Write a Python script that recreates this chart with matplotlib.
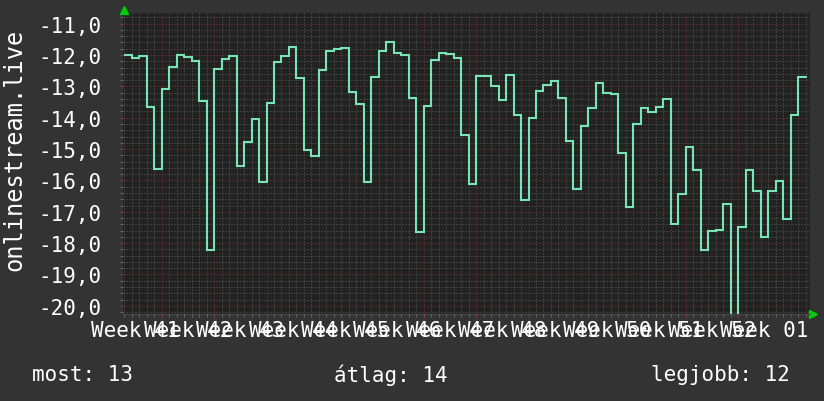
import numpy as np
import matplotlib
matplotlib.use('Agg')
import matplotlib.pyplot as plt
import matplotlib.ticker as mticker

# daily values (day index from Monday of week 41)
days = np.arange(2, 93)
values = [
    -12.00, -12.09, -12.02, -13.65, -15.64, -13.09, -12.37, -11.99, -12.05, -12.18,
    -13.46, -18.21, -12.45, -12.13, -12.02, -15.53, -14.76, -14.04, -16.04, -13.53,
    -12.21, -12.02, -11.73, -12.72, -15.02, -15.21, -12.48, -11.87, -11.80, -11.78,
    -13.19, -13.56, -16.04, -12.69, -11.87, -11.57, -11.93, -11.99, -13.37, -17.64,
    -13.63, -12.15, -11.93, -11.96, -12.10, -14.54, -16.11, -12.67, -12.67, -12.98,
    -13.43, -12.64, -13.91, -16.62, -14.00, -13.14, -12.96, -12.83, -13.36, -14.73,
    -16.28, -14.26, -13.68, -12.88, -13.21, -13.24, -15.13, -16.85, -14.19, -13.69,
    -13.82, -13.66, -13.39, -17.38, -16.43, -14.93, -15.67, -18.21, -17.61, -17.57,
    -16.74, -21.00, -17.49, -15.67, -16.34, -17.81, -16.34, -16.02, -17.22, -13.91,
    -12.70,
]
last_edge = 93.2
week_labels = ["Week 41", "Week 42", "Week 43", "Week 44", "Week 45", "Week 46",
               "Week 47", "Week 48", "Week 49", "Week 50", "Week 51", "Week 52",
               "Week 01"]
y_ticks = [-11, -12, -13, -14, -15, -16, -17, -18, -19, -20]
legend = ["most: 13", "átlag: 14", "legjobb: 12"]
ylabel = "onlinestream.live"

W, H = 824, 402
fig = plt.figure(figsize=(W / 100, H / 100), dpi=100, facecolor='#333333')
ax = fig.add_axes([123.3 / W, 1 - 315 / H, (810 - 123.3) / W, (315 - 14) / H])
ax.set_facecolor('#222222')

mono = 'DejaVu Sans Mono'

ax.set_xlim(1.87, 93.6)
ax.set_ylim(-20.26, -10.66)

ax.xaxis.set_major_locator(mticker.MultipleLocator(7))
ax.xaxis.set_minor_locator(mticker.MultipleLocator(1))
ax.yaxis.set_major_locator(mticker.FixedLocator(y_ticks))
ax.yaxis.set_minor_locator(mticker.MultipleLocator(0.2))
ax.yaxis.set_major_formatter(mticker.FuncFormatter(lambda v, p: "{:.1f}".format(v).replace('.', ',')))
ax.xaxis.set_major_formatter(mticker.NullFormatter())

ax.grid(which='minor', color='#5a5a5a', linestyle=(0, (1, 2)), linewidth=0.72)
ax.grid(which='major', color='#7a3434', linestyle=(0, (1, 2)), linewidth=0.72)
ax.set_axisbelow(True)

ax.tick_params(axis='x', which='major', length=3, color='#8a3a3a', width=0.8)
ax.tick_params(axis='x', which='minor', length=2, color='#666666', width=0.8)
ax.tick_params(axis='y', which='major', length=2, color='#8a3a3a', width=0.8,
               labelsize=15, labelcolor='white', pad=14)
ax.tick_params(axis='y', which='minor', length=2, color='#666666', width=0.8)
for lbl in ax.get_yticklabels():
    lbl.set_family(mono)

for s in ['top', 'right', 'left']:
    ax.spines[s].set_visible(False)
ax.spines['bottom'].set_color('#4a4a4a')

ax.stairs(values, np.append(days, last_edge), baseline=None,
          color='#78e6b4', linewidth=1.5)

for i, lab in enumerate(week_labels):
    ax.text(3.5 + 7 * i, -20.26, lab, ha='center', va='top', color='white',
            fontsize=15, family=mono, transform=ax.transData,
            clip_on=False).set_y(-20.26 - 6 / 31.33)

# axis arrows
ax.plot([0.0017], [1 + 3 / 301], marker='^', color='#00d000', markersize=6,
        transform=ax.transAxes, clip_on=False)
ax.plot([1 + 3 / 687], [0.001], marker='>', color='#00d000', markersize=6,
        transform=ax.transAxes, clip_on=False)

fig.text(14 / W, 1 - 150 / H, ylabel, rotation=90, ha='center', va='center',
         color='white', fontsize=17, family=mono)

for x, t in zip([32, 334, 651], legend):
    fig.text(x / W, 1 - 375 / H, t, ha='left', va='center', color='white',
             fontsize=15, family=mono)

fig.savefig('out.png', dpi=100, facecolor=fig.get_facecolor())
